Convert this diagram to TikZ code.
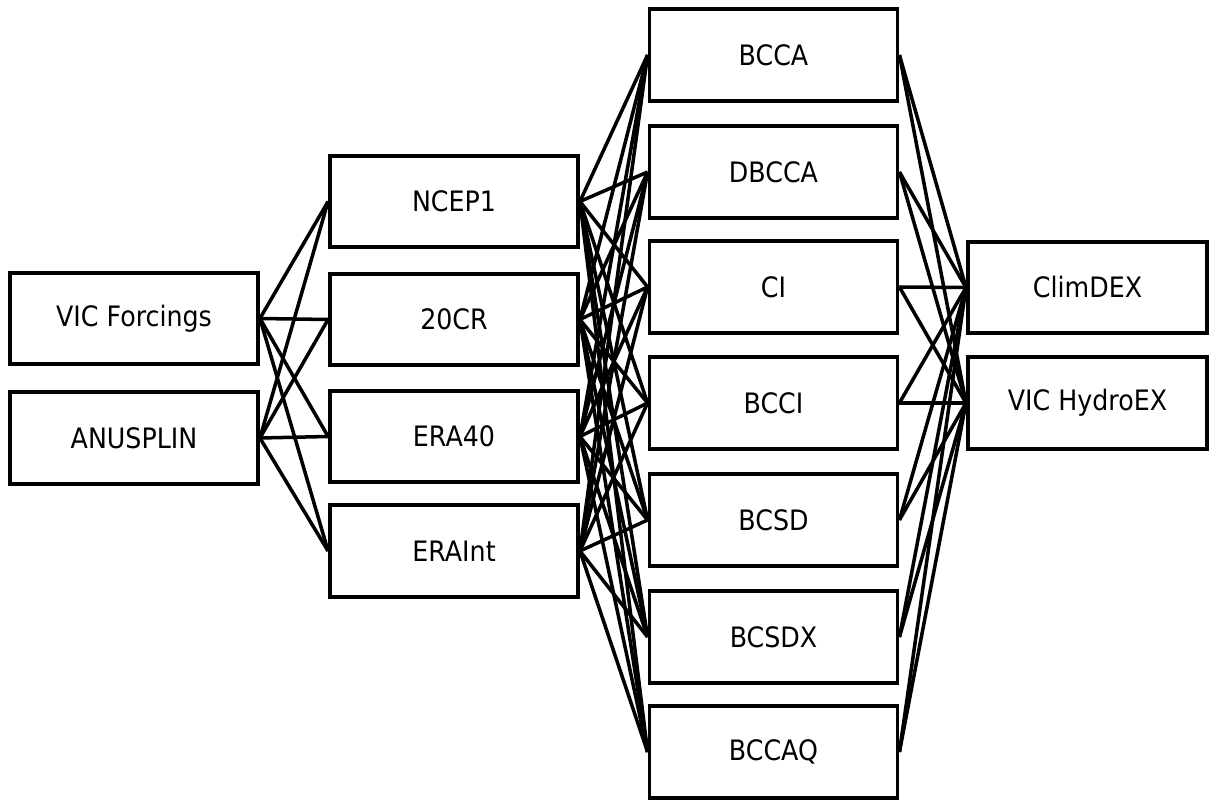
\documentclass[tikz,border=0pt]{standalone}
\usepackage{fontspec}
\setmainfont[FakeStretch=0.9]{DejaVu Sans}
\usepackage{tikz}
\usetikzlibrary{positioning}
\tikzset{
  ds_box/.style={rectangle,draw=black,fill=white,line width=2.7pt,minimum width=6.2cm,
    minimum height=2.28cm,align=center,font=\fontsize{20}{24}\selectfont,inner sep=2pt},
  ds_out/.style={ds_box,minimum width=5.98cm},
  lnk/.style={line width=2.5pt,draw=black},
}

\begin{document}
\begin{tikzpicture}[x=0.025cm,y=-0.025cm]
  \useasboundingbox (0,0) rectangle (1217,800);
  % observations
  \node (vic) [ds_box] at (134,318.5) {VIC Forcings};
  \node (anu) [ds_box] at (134,438) {ANUSPLIN};
  % reanalyses
  \node (ncep) [ds_box] at (454,201.5) {NCEP1};
  \node (cr)   [ds_box] at (454,319.5) {20CR};
  \node (era)  [ds_box] at (454,436.5) {ERA40};
  \node (erai) [ds_box] at (454,551) {ERAInt};
  % downscaling methods
  \node (bcca)  [ds_box] at (773.5,55)  {BCCA};
  \node (dbcca) [ds_box] at (773.5,172) {DBCCA};
  \node (ci)    [ds_box] at (773.5,287) {CI};
  \node (bcci)  [ds_box] at (773.5,403) {BCCI};
  \node (bcsd)  [ds_box] at (773.5,520) {BCSD};
  \node (bcsdx) [ds_box] at (773.5,637) {BCSDX};
  \node (bccaq) [ds_box] at (773.5,752) {BCCAQ};
  % indices
  \node (cdex) [ds_out] at (1087.5,287.5) {ClimDEX};
  \node (hex)  [ds_out] at (1087.5,403)   {VIC HydroEX};
  \foreach \a in {vic,anu}
    \foreach \b in {ncep,cr,era,erai}
      \draw[lnk] (\a.east) -- (\b.west);
  \foreach \a in {ncep,cr,era,erai}
    \foreach \b in {bcca,dbcca,ci,bcci,bcsd,bcsdx,bccaq}
      \draw[lnk] (\a.east) -- (\b.west);
  \foreach \a in {bcca,dbcca,ci,bcci,bcsd,bcsdx,bccaq}
    \foreach \b in {cdex,hex}
      \draw[lnk] (\a.east) -- (\b.west);
\end{tikzpicture}
\end{document}
